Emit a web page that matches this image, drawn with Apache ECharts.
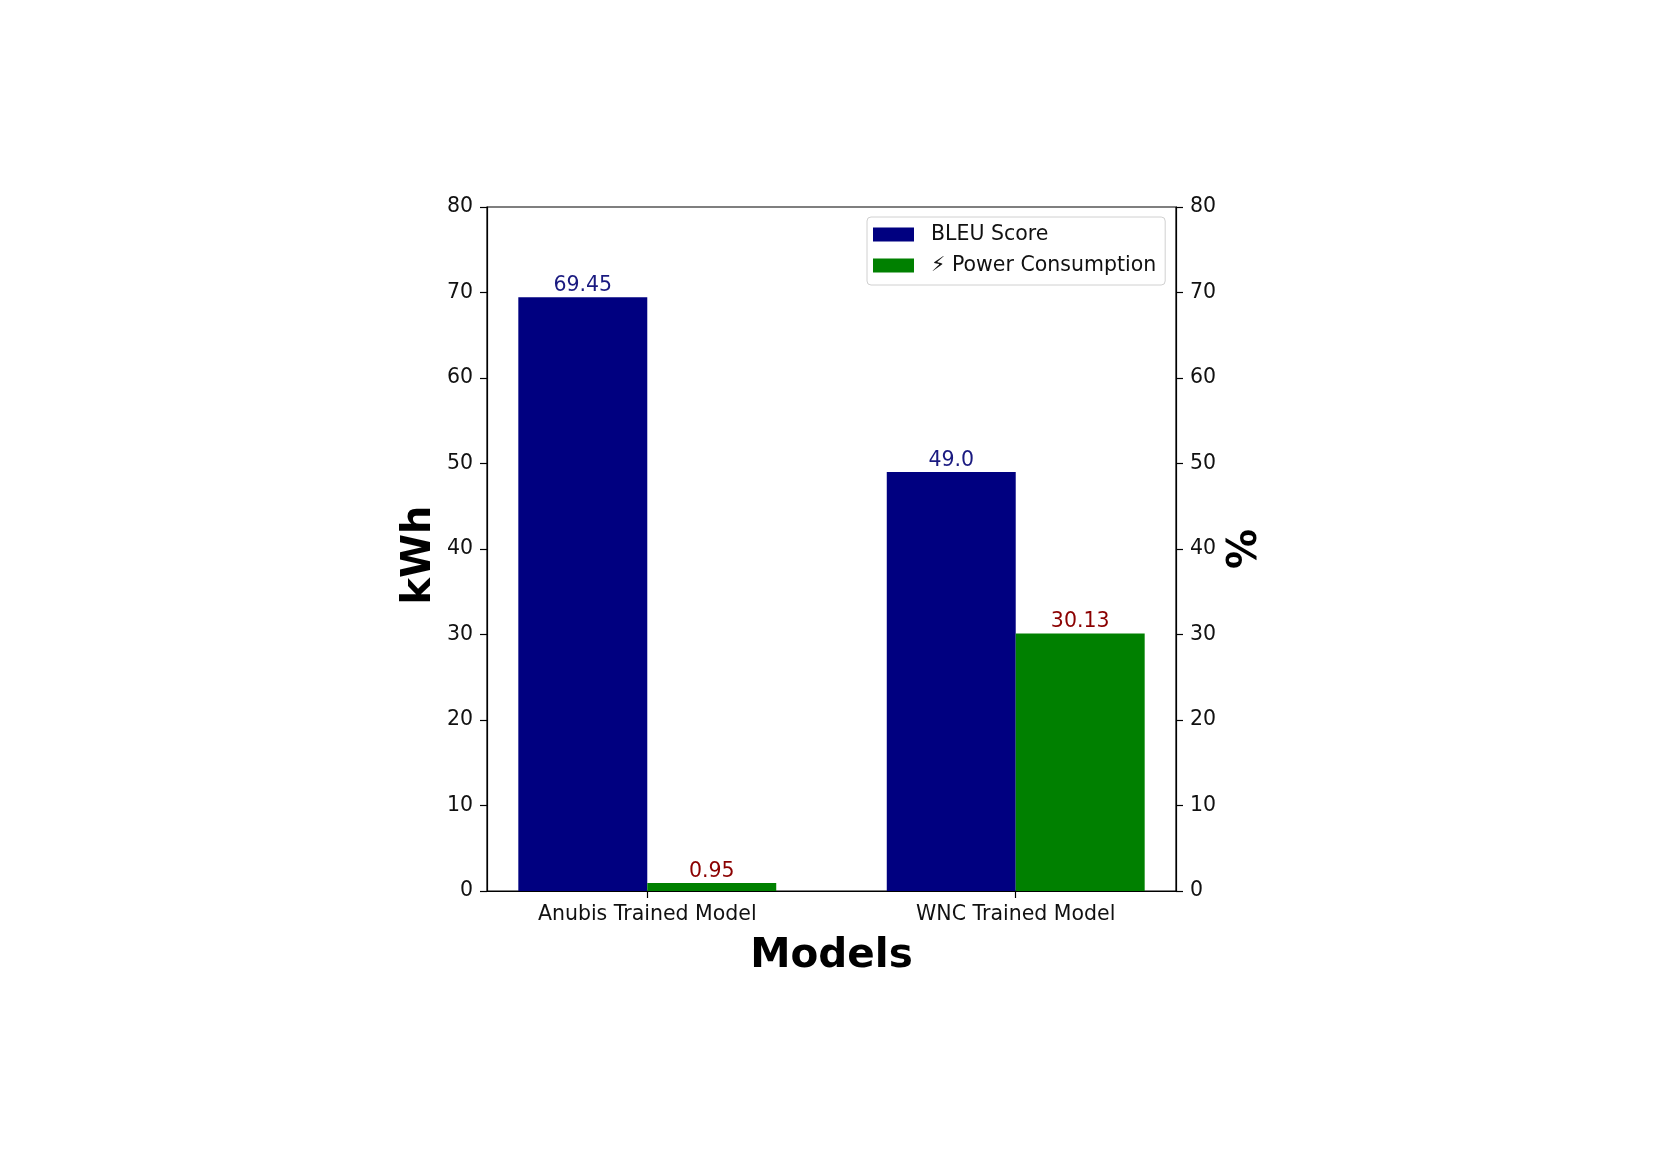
<!DOCTYPE html>
<html>
<head>
<meta charset="utf-8">
<script src="https://cdn.jsdelivr.net/npm/echarts@6/dist/echarts.min.js"></script>
<style>html,body{margin:0;padding:0;background:#fff;}#chart{width:1661px;height:1174px;}</style>
</head>
<body>
<div id="chart"></div>
<script>
const categories = ['Anubis Trained Model', 'WNC Trained Model'];
const bleuScores = [69.45, 49.0];
const powerConsumption = [0.95, 30.13];
const seriesNames = ['BLEU Score', '\u26A1 Power Consumption'];
const yMin = 0, yMax = 80, yStep = 10;

const FONT = 'DejaVu Sans';
const FS = 20.5;
const BAR_W = 0.35;
const fmt = v => Number.isInteger(v) ? v.toFixed(1) : String(v);

function makeRender(offset, labelColor) {
  return function (params, api) {
    const x = api.value(0), y = api.value(1);
    const p0 = api.coord([x + offset - BAR_W / 2, y]);
    const p1 = api.coord([x + offset + BAR_W / 2, 0]);
    return {
      type: 'group',
      children: [
        { type: 'rect', shape: { x: p0[0], y: p0[1], width: p1[0] - p0[0], height: p1[1] - p0[1] }, style: api.style() },
        { type: 'text', x: (p0[0] + p1[0]) / 2, y: p0[1] - 1,
          style: { text: fmt(y), fill: labelColor, font: FS + 'px "' + FONT + '"', align: 'center', verticalAlign: 'bottom' } }
      ]
    };
  };
}

const chart = echarts.init(document.getElementById('chart'), null, { renderer: 'canvas' });
const axisCommon = {
  min: yMin, max: yMax, interval: yStep,
  axisLine: { show: true, onZero: false, lineStyle: { color: '#000', width: 1.2 } },
  axisTick: { show: true, inside: false, length: 7, lineStyle: { color: '#000', width: 1.2 } },
  axisLabel: { color: '#111', fontSize: FS, fontFamily: FONT, margin: 14, padding: [5, 0, 0, 0] },
  splitLine: { show: false },
  nameLocation: 'middle',
  nameRotate: 90,
  nameTextStyle: { fontSize: 40, fontWeight: 'bold', fontFamily: FONT, color: '#000' }
};
chart.setOption({
  animation: false,
  backgroundColor: '#fff',
  grid: { left: 487, right: 485, top: 207, bottom: 283, show: true, borderColor: '#000', borderWidth: 1.2, backgroundColor: 'transparent' },
  legend: {
    orient: 'vertical', left: 867, top: 217,
    icon: 'rect', itemWidth: 41, itemHeight: 14, itemGap: 4,
    padding: [4, 9, 6, 6],
    borderColor: '#d0d0d0', borderWidth: 1, borderRadius: 4, backgroundColor: '#fff',
    textStyle: { fontSize: FS, fontFamily: FONT, color: '#111', lineHeight: 22, padding: [5, 0, 0, 12] },
    data: seriesNames
  },
  xAxis: {
    type: 'value', min: -0.435, max: 1.435,
    name: 'Models', nameLocation: 'middle', nameGap: 45,
    nameTextStyle: { fontSize: 40.5, fontWeight: 'bold', fontFamily: FONT, color: '#000' },
    axisLine: { show: true, lineStyle: { color: '#000', width: 1.2 } },
    axisTick: { show: true, length: 7, customValues: categories.map((c, i) => i), lineStyle: { color: '#000', width: 1.2 } },
    axisLabel: { customValues: categories.map((c, i) => i), formatter: v => categories[Math.round(v)], color: '#111', fontSize: FS, fontFamily: FONT, margin: 13 },
    splitLine: { show: false }
  },
  yAxis: [
    Object.assign({}, axisCommon, { type: 'value', position: 'left', name: 'kWh', nameGap: 47,
      nameTextStyle: Object.assign({}, axisCommon.nameTextStyle, { padding: [0, 12, 0, 0] }) }),
    Object.assign({}, axisCommon, { type: 'value', position: 'right', name: '%', nameGap: 50 })
  ],
  series: [
    { name: seriesNames[0], type: 'custom', yAxisIndex: 0, itemStyle: { color: '#000080' },
      encode: { x: 0, y: 1 },
      renderItem: makeRender(-BAR_W / 2, '#1a1a80'),
      data: categories.map((c, i) => [i, bleuScores[i]]) },
    { name: seriesNames[1], type: 'custom', yAxisIndex: 0, itemStyle: { color: '#008000' },
      encode: { x: 0, y: 1 },
      renderItem: makeRender(BAR_W / 2, '#8b0000'),
      data: categories.map((c, i) => [i, powerConsumption[i]]) }
  ]
});
</script>
</body>
</html>
